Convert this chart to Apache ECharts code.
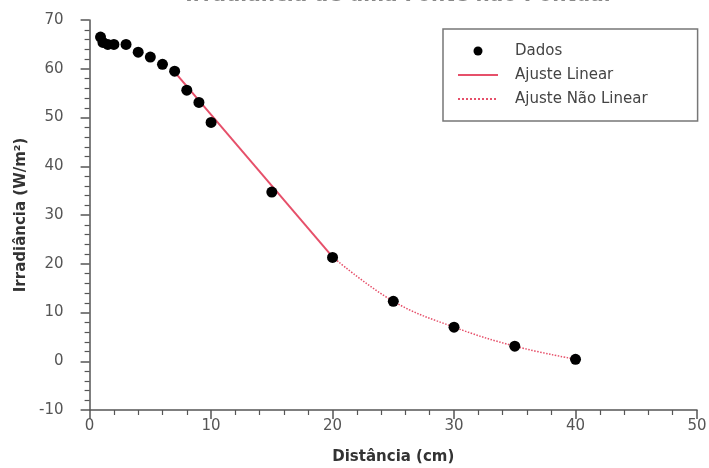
<!DOCTYPE html>
<html lang="pt">
<head>
  <meta charset="UTF-8">
  <title>Irradiância de uma Fonte não Pontual</title>
  <style>
    * { margin: 0; padding: 0; }
    body { background: #fff; }
    #chart { width: 709px; height: 468px; }
  </style>
</head>
<body>
  <div id="chart"></div>
  <script src="https://cdn.jsdelivr.net/npm/echarts@6/dist/echarts.min.js"></script>
  <script>
    // medidas
    const distancia = [0.9, 1.1, 1.5, 2, 3, 4, 5, 6, 7, 8, 9, 10, 15, 20, 25, 30, 35, 40];
    const irradiancia = [66.5, 65.4, 65.0, 65.0, 65.0, 63.4, 62.4, 60.9, 59.5, 55.6, 53.1, 49.0, 34.7, 21.3, 12.3, 7.0, 3.1, 0.4];

    // ajuste linear (extremos da reta)
    const linX = [6.9, 20];
    const linY = [59.6, 21.4];

    // ajuste nao linear
    const nlX = [20, 25, 30, 35, 40];
    const nlY = [21.4, 12.3, 7.0, 3.1, 0.4];

    const xTicks = [0, 10, 20, 30, 40, 50];
    const yTicks = [-10, 0, 10, 20, 30, 40, 50, 60, 70];

    const pairs = (xs, ys) => xs.map((x, i) => [x, ys[i]]);
    const red = '#e6506a';
    const axisColor = '#555';

    const chart = echarts.init(document.getElementById('chart'));
    chart.setOption({
      animation: false,
      title: {
        text: 'Irradiância de uma Fonte não Pontual',
        left: 393, textAlign: 'center', top: -19,
        textStyle: { fontFamily: 'DejaVu Sans', fontSize: 20, fontWeight: 'bold', color: '#888' }
      },
      grid: { left: 89.6, right: 12, top: 20, bottom: 58, containLabel: false, outerBoundsMode: 'none' },
      legend: {
        orient: 'vertical',
        left: 443, top: 29,
        borderColor: '#777', borderWidth: 1.5,
        padding: [13, 50, 13, 14],
        itemGap: 6,
        itemWidth: 40, itemHeight: 9,
        textStyle: { fontFamily: 'DejaVu Sans', fontSize: 15, color: '#444', padding: [0, 0, 0, 12], lineHeight: 18 },
        data: [
          { name: 'Dados', icon: 'circle', itemStyle: { color: '#000' } },
          { name: 'Ajuste Linear', itemStyle: { color: 'transparent', opacity: 0 } },
          { name: 'Ajuste Não Linear', itemStyle: { color: 'transparent', opacity: 0 } }
        ]
      },
      xAxis: {
        type: 'value', min: 0, max: 50, interval: 10,
        name: 'Distância (cm)', nameLocation: 'middle', nameGap: 40,
        nameTextStyle: { fontFamily: 'DejaVu Sans', fontSize: 15, fontWeight: 'bold', color: '#333' },
        axisLine: { onZero: false, lineStyle: { color: axisColor, width: 1.5 } },
        axisTick: { length: 9, lineStyle: { color: axisColor, width: 1.5 } },
        minorTick: { show: true, splitNumber: 5, length: 5, lineStyle: { color: axisColor, width: 1.2 } },
        axisLabel: {
          fontFamily: 'DejaVu Sans', fontSize: 15, color: '#555', margin: 9,
          formatter: v => xTicks.includes(v) ? String(v) : ''
        },
        splitLine: { show: false }
      },
      yAxis: {
        type: 'value', min: -10, max: 70, interval: 10,
        name: 'Irradiância (W/m²)', nameLocation: 'middle', nameGap: 57,
        nameTextStyle: { fontFamily: 'DejaVu Sans', fontSize: 15, fontWeight: 'bold', color: '#333' },
        axisLine: { onZero: false, lineStyle: { color: axisColor, width: 1.5 } },
        axisTick: { length: 9, lineStyle: { color: axisColor, width: 1.5 } },
        minorTick: { show: true, splitNumber: 5, length: 5, lineStyle: { color: axisColor, width: 1.2 } },
        axisLabel: {
          fontFamily: 'DejaVu Sans', fontSize: 15, color: '#555', margin: 26,
          formatter: v => yTicks.includes(v) ? String(v) : ''
        },
        splitLine: { show: false }
      },
      series: [
        {
          name: 'Ajuste Linear', type: 'line', data: pairs(linX, linY),
          symbol: 'none', z: 2,
          lineStyle: { color: red, width: 2 }, itemStyle: { color: red }
        },
        {
          name: 'Ajuste Não Linear', type: 'line', data: pairs(nlX, nlY),
          symbol: 'none', smooth: 0.4, z: 2,
          lineStyle: { color: red, width: 1.5, type: 'dotted' }, itemStyle: { color: red }
        },
        {
          name: 'Dados', type: 'scatter', data: pairs(distancia, irradiancia),
          symbolSize: 11, z: 3,
          itemStyle: { color: '#000', opacity: 1 }
        }
      ]
    });
  </script>
</body>
</html>
